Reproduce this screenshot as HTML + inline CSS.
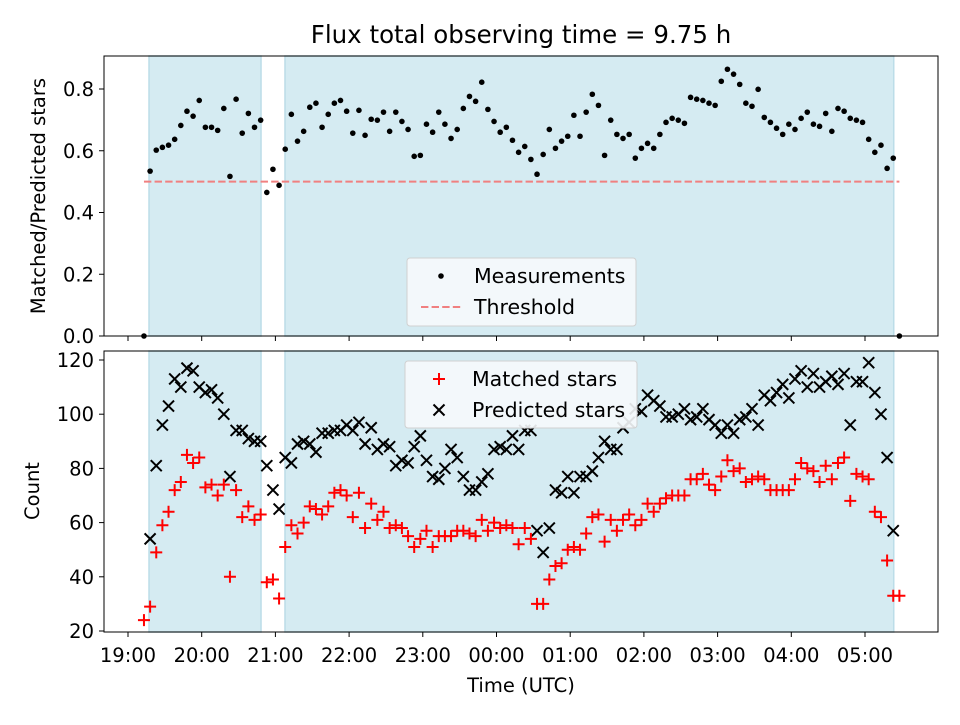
<!DOCTYPE html>
<html><head><meta charset="utf-8"><style>
body{margin:0;background:#fff}
svg{font-family:"DejaVu Sans","Liberation Sans",sans-serif}
</style></head><body>
<svg id="chart" width="960" height="720" xmlns="http://www.w3.org/2000/svg"></svg>
<script>
const startMin = 13; // minutes after 19:00 of first sample
const stepMin = 5;
const ratio = [0,.534,.602,.611,.618,.637,.682,.728,.712,.763,.676,.676,.666,.737,.517,.767,.657,.721,.676,.699,.465,.540,.488,.605,.718,.631,.663,.741,.754,.676,.718,.754,.763,.728,.657,.731,.650,.702,.699,.725,.663,.725,.695,.669,.582,.585,.686,.660,.725,.686,.640,.669,.737,.776,.760,.822,.734,.695,.660,.676,.634,.595,.614,.572,.524,.588,.669,.608,.631,.647,.715,.647,.725,.783,.747,.585,.699,.653,.640,.653,.576,.608,.624,.608,.653,.692,.705,.699,.689,.773,.767,.763,.754,.747,.825,.864,.848,.815,.754,.744,.799,.708,.692,.673,.653,.686,.669,.705,.725,.686,.679,.721,.663,.737,.728,.705,.699,.692,.637,.595,.618,.543,.576,0];
const matched = [24,29,49,59,64,72,75,85,82,84,73,74,70,74,40,72,62,66,61,63,38,39,32,51,59,56,60,66,65,63,66,71,72,70,62,71,58,67,61,64,58,59,58,55,51,54,57,51,55,55,55,57,57,56,55,61,57,60,58,59,58,52,58,54,30,30,39,44,45,50,51,50,56,62,63,53,61,57,61,63,59,61,67,64,67,69,70,70,70,76,76,78,74,72,77,83,79,80,75,76,77,76,72,72,72,72,76,82,80,79,75,81,76,82,84,68,78,77,76,64,62,46,33,33];
const predicted = [null,54,81,96,103,113,110,117,116,110,108,109,106,100,77,94,94,91,90,90,81,72,65,84,82,89,90,89,86,93,93,94,94,96,94,97,89,95,87,89,88,81,83,82,88,92,83,77,76,80,87,84,77,72,72,75,78,87,88,87,92,87,94,94,57,49,58,72,71,77,71,77,77,79,84,90,87,87,95,97,102,101,107,105,103,99,99,100,102,98,99,102,98,96,93,96,93,98,99,102,96,107,105,108,111,106,113,116,110,115,110,112,114,111,115,96,112,112,119,108,100,84,57,null];
const threshold = 0.5;
const spans = [[0.285,1.805],[2.13,10.39]];
const xTickLabels = ["19:00","20:00","21:00","22:00","23:00","00:00","01:00","02:00","03:00","04:00","05:00"];
const yTopTicks = [0,0.2,0.4,0.6,0.8];
const yBotTicks = [20,40,60,80,100,120];

const NS="http://www.w3.org/2000/svg";
const svg=document.getElementById('chart');
function el(tag,attrs,parent){const e=document.createElementNS(NS,tag);for(const k in attrs)e.setAttribute(k,attrs[k]);(parent||svg).appendChild(e);return e;}
const L=104,R=938,T1=56,B1=336,T2=351,B2=632;
const xs=h=>128+73.7*h;
const yTop=v=>B1-v*308.75;
const yBot=v=>360+(120-v)*2.71;
const tHour=i=>(startMin+stepMin*i)/60;

function panel(T,B,name){
  const g=el('g',{});
  
  
  spans.forEach((s,k)=>{
    const r=el('rect',{x:xs(s[0]),y:T,width:xs(s[1])-xs(s[0]),height:B-T,fill:'#d5ebf2',stroke:'#bcdde8','stroke-width':1.5},g);
    
    
  });
  return g;
}
const gTop=panel(T1,B1,'top-panel');
const gBot=panel(T2,B2,'bottom-panel');

const th=el('line',{x1:xs(tHour(0)),x2:xs(tHour(123)),y1:yTop(threshold),y2:yTop(threshold),stroke:'#f08080','stroke-width':2,'stroke-dasharray':'7.4,3.2'},gTop);



ratio.forEach((v,i)=>{
  const c=el('circle',{cx:xs(tHour(i)),cy:yTop(v),r:2.8,fill:'#000'},gTop);
  
  
});

predicted.forEach((v,i)=>{
  if(v===null)return;
  const x=xs(tHour(i)),y=yBot(v),s=5.5;
  const p=el('path',{d:`M${x-s},${y-s}L${x+s},${y+s}M${x-s},${y+s}L${x+s},${y-s}`,stroke:'#000','stroke-width':2},gBot);
  
  
});
matched.forEach((v,i)=>{
  const x=xs(tHour(i)),y=yBot(v),s=6;
  const p=el('path',{d:`M${x-s},${y}L${x+s},${y}M${x},${y-s}L${x},${y+s}`,stroke:'#ff0000','stroke-width':2},gBot);
  
  
});

[[T1,B1,'top-axes-frame'],[T2,B2,'bottom-axes-frame']].forEach(a=>{
  const r=el('rect',{x:L,y:a[0],width:R-L,height:a[1]-a[0],fill:'none',stroke:'#000','stroke-width':1});
  
  
});
xTickLabels.forEach((lab,k)=>{
  const x=xs(k);
  el('line',{x1:x,x2:x,y1:B1,y2:B1+5,stroke:'#000'});
  el('line',{x1:x,x2:x,y1:B2,y2:B2+5,stroke:'#000'});
  const t=el('text',{x:x,y:662,'text-anchor':'middle','font-size':19.5,fill:'#000'});
  t.textContent=lab;
  
  
});
yTopTicks.forEach(v=>{
  const y=yTop(v);
  el('line',{x1:L-5,x2:L,y1:y,y2:y,stroke:'#000'});
  const t=el('text',{x:L-10,y:y+7,'text-anchor':'end','font-size':19.5});
  t.textContent=v.toFixed(1);
  
  
});
yBotTicks.forEach(v=>{
  const y=yBot(v);
  el('line',{x1:L-5,x2:L,y1:y,y2:y,stroke:'#000'});
  const t=el('text',{x:L-10,y:y+7,'text-anchor':'end','font-size':19.5});
  t.textContent=v;
  
  
});
function txt(x,y,s,size,name,extra){const t=el('text',Object.assign({x:x,y:y,'font-size':size,'text-anchor':'middle'},extra||{}));t.textContent=s;return t;}
txt(521,43,'Flux total observing time = 9.75 h',24.5,'chart-title');
txt(521,692,'Time (UTC)',19.5,'x-axis-title');
txt(0,0,'Matched/Predicted stars',19.5,'top-y-axis-title',{transform:'translate(45,196) rotate(-90)'});
txt(0,0,'Count',19.5,'bottom-y-axis-title',{transform:'translate(39,491) rotate(-90)'});

function legend(x,y,w,h,name,items){
  const g=el('g',{});
  
  
  el('rect',{x:x,y:y,width:w,height:h,rx:3,fill:'#f6fafc','fill-opacity':0.9,stroke:'#d0d0d0'},g);
  items.forEach((it,k)=>{
    const cy=y+18+k*31,mx=x+34;
    if(it.type==='dot')el('circle',{cx:mx,cy:cy,r:2.8,fill:'#000'},g);
    if(it.type==='dash')el('line',{x1:mx-20,x2:mx+20,y1:cy,y2:cy,stroke:'#f08080','stroke-width':2,'stroke-dasharray':'7.4,3.2'},g);
    if(it.type==='plus')el('path',{d:`M${mx-6},${cy}L${mx+6},${cy}M${mx},${cy-6}L${mx},${cy+6}`,stroke:'#f00','stroke-width':2},g);
    if(it.type==='x')el('path',{d:`M${mx-5.5},${cy-5.5}L${mx+5.5},${cy+5.5}M${mx-5.5},${cy+5.5}L${mx+5.5},${cy-5.5}`,stroke:'#000','stroke-width':2},g);
    const t=el('text',{x:x+67,y:cy+7,'font-size':20.5},g);
    t.textContent=it.label;
    
    
  });
}
legend(407,258,229,68,'top-legend',[{type:'dot',label:'Measurements'},{type:'dash',label:'Threshold'}]);
legend(405,361,232,67,'bottom-legend',[{type:'plus',label:'Matched stars'},{type:'x',label:'Predicted stars'}]);
</script>
</body></html>
